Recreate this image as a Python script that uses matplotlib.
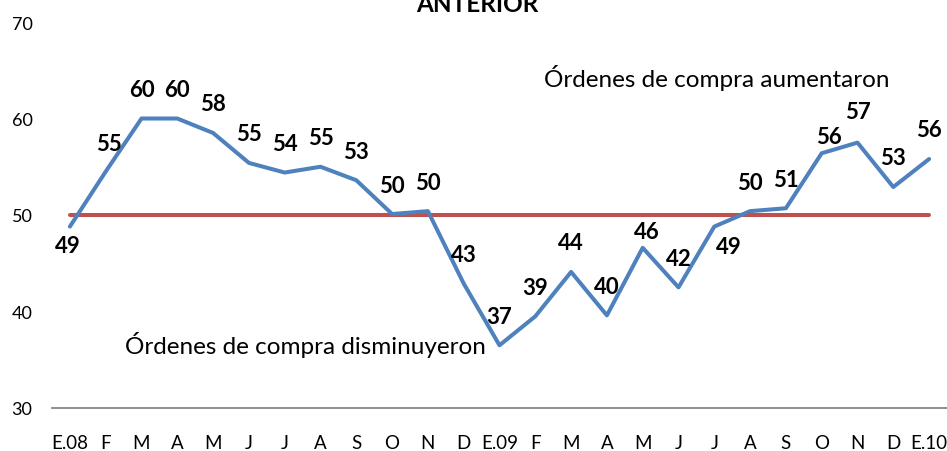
import matplotlib
matplotlib.use("Agg")
import matplotlib.pyplot as plt

plt.rcParams['font.family'] = ['Lato', 'DejaVu Sans']

# months from Jan 2008 to Jan 2010
months = ["E.08", "F", "M", "A", "M", "J", "J", "A", "S", "O", "N", "D",
          "E.09", "F", "M", "A", "M", "J", "J", "A", "S", "O", "N", "D", "E.10"]
# index values (line position) and the rounded labels shown on the chart
ordenes = [48.8, 54.5, 60.0, 60.0, 58.5, 55.4, 54.4, 55.0, 53.6, 50.1, 50.4, 42.9,
           36.5, 39.5, 44.1, 39.6, 46.6, 42.5, 48.8, 50.4, 50.7, 56.4, 57.5, 52.9, 55.8]
etiquetas = [49, 55, 60, 60, 58, 55, 54, 55, 53, 50, 50, 43,
             37, 39, 44, 40, 46, 42, 49, 50, 51, 56, 57, 53, 56]
umbral = [50] * len(months)
yticks = [30, 40, 50, 60, 70]

fig = plt.figure(figsize=(9.47, 4.52), dpi=100)
ax = fig.add_axes([52 / 947, 1 - 409 / 452, 895 / 947, 386 / 452])

x = list(range(len(months)))
ax.plot(x, umbral, color="#C0504D", lw=2.9, solid_capstyle="round", zorder=2)
ax.plot(x, ordenes, color="#4F81BD", lw=2.9, solid_capstyle="round", zorder=3)

# label offsets in pixels (default: above the point)
offsets = {0: (-2, -19), 1: (3, 28), 16: (4, 16), 18: (15, -20),
           21: (7, 17), 22: (0, 31), 23: (0, 30), 24: (0, 30)}
for i, (v, lab) in enumerate(zip(ordenes, etiquetas)):
    dx, dy = offsets.get(i, (0, 29))
    ax.annotate(str(lab), (i, v), xytext=(dx, dy), textcoords="offset pixels",
                ha="center", va="center", fontsize=16, fontweight="bold",
                color="black", zorder=5)

ax.text(18.08, 64.3, "Órdenes de compra aumentaron", ha="center", va="center",
        fontsize=17.5)
ax.text(1.54, 36.6, "Órdenes de compra disminuyeron", ha="left", va="center",
        fontsize=17.5)

fig.text(477 / 947, 1 - 12 / 452, "ANTERIOR", ha="center", va="baseline",
         fontsize=17.5, fontweight="bold")

ax.set_xlim(-0.5, len(months) - 0.5)
ax.set_ylim(30, 70)
ax.set_xticks(x)
ax.set_xticklabels(months)
ax.set_yticks(yticks)
ax.tick_params(axis="x", length=0, pad=19, labelsize=13.5)
ax.tick_params(axis="y", length=0, pad=14, labelsize=13)
for side in ["top", "right", "left"]:
    ax.spines[side].set_visible(False)
ax.spines["bottom"].set_color("#868686")
ax.spines["bottom"].set_linewidth(1.3)
ax.patch.set_alpha(0)

fig.savefig("out.png", dpi=100)
